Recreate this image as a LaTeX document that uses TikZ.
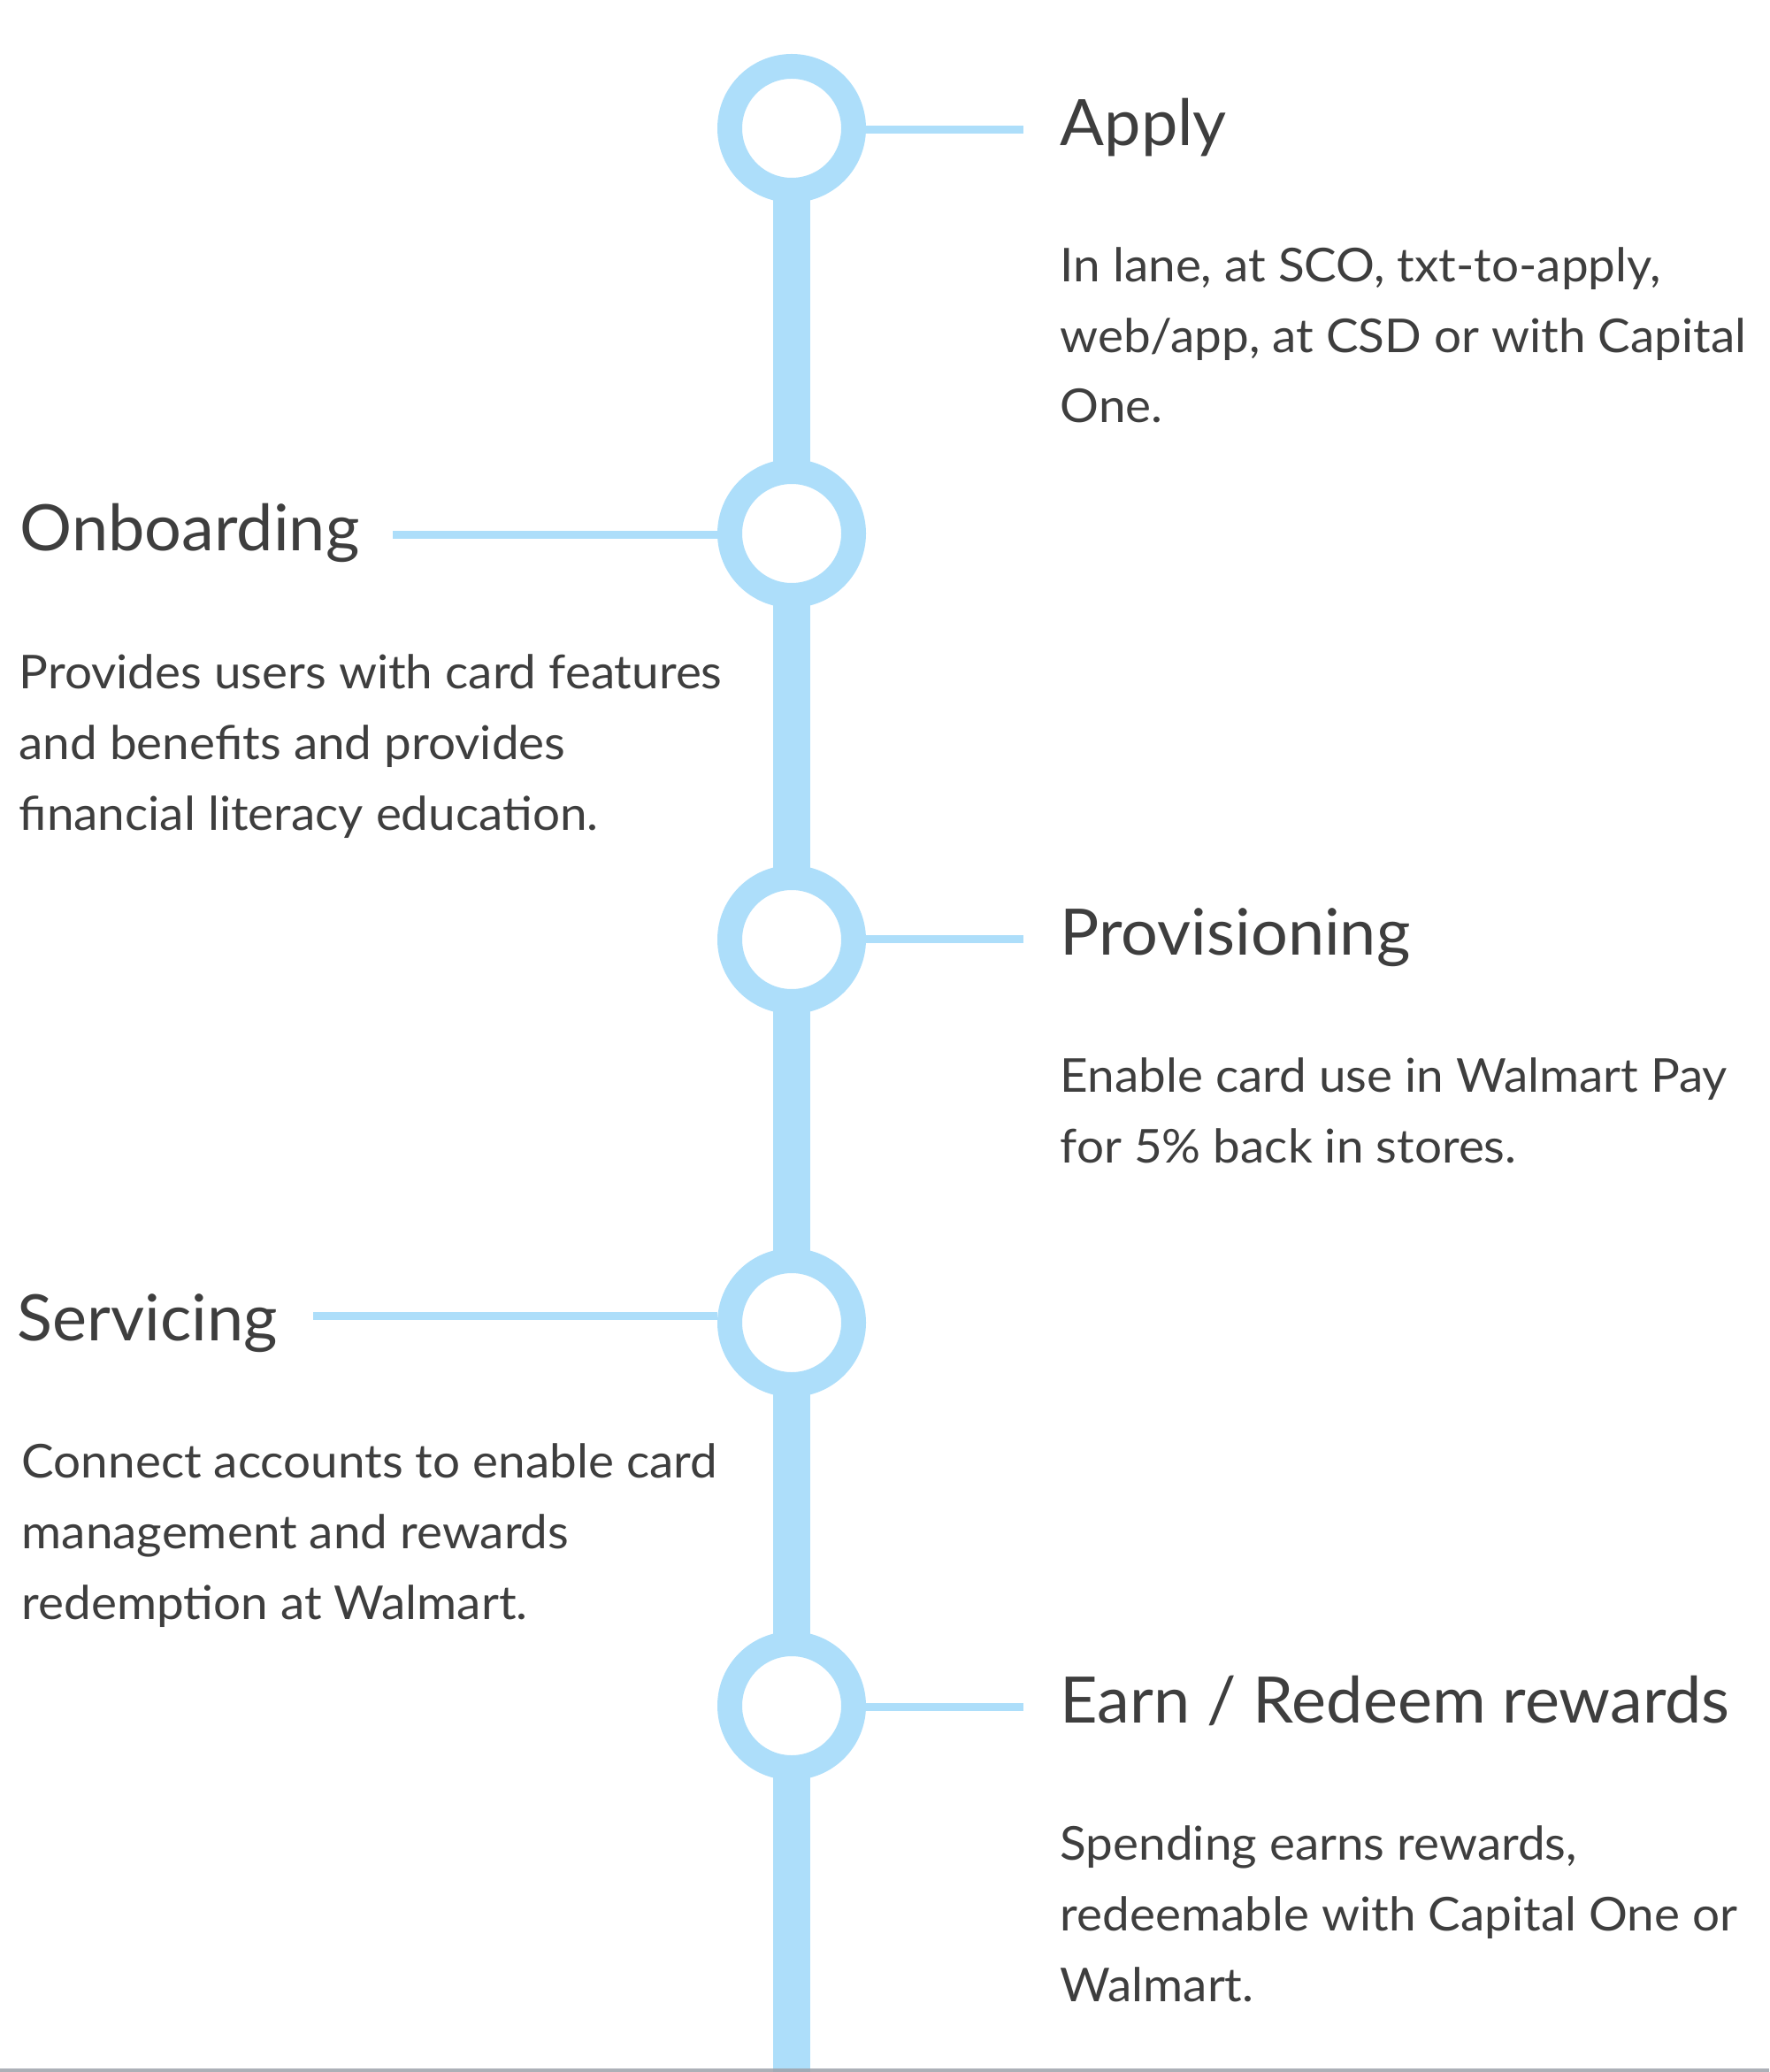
\documentclass[tikz,border=0pt]{standalone}
\usepackage{fontspec}
\setmainfont{Lato}
\newfontfamily\blurbfont{Lato}[FakeStretch=1.04]
\newfontfamily\titlefont{Lato}[FakeStretch=1.02]

\definecolor{railblue}{RGB}{173,222,250}
\definecolor{inkgray}{RGB}{62,62,62}
\definecolor{rulegray}{RGB}{158,162,170}

\tikzset{
    stepdot/.style={circle, draw=railblue, fill=white, line width=2.8mm,
        minimum size=14mm, inner sep=0pt},
    rail/.style={draw=railblue, line width=4.2mm},
    link/.style={draw=railblue, line width=0.9mm},
    steptitle/.style={anchor=base west, inner sep=0pt, text=inkgray,
        font=\titlefont\fontsize{20.6}{24}\selectfont},
    blurb/.style={anchor=base west, inner sep=0pt, align=left, text=inkgray,
        font=\blurbfont\fontsize{15}{22.76}\selectfont},
    footrule/.style={draw=rulegray, line width=0.4mm}
}

\begin{document}
\begin{tikzpicture}
    \useasboundingbox (0,0) rectangle (20,-23.42);
    % rail and stops
    \coordinate (rail-end) at (8.95,-23.42);
    \draw[rail] (8.95,-1.45) -- (rail-end);
    \node[stepdot] (apply-dot) at (8.95,-1.45) {};
    \node[stepdot] (onboarding-dot) at (8.95,-6.03) {};
    \node[stepdot] (provisioning-dot) at (8.95,-10.62) {};
    \node[stepdot] (servicing-dot) at (8.95,-14.95) {};
    \node[stepdot] (earn-dot) at (8.95,-19.28) {};
    % titles
    \node[steptitle] (apply-title) at (11.98,-1.65) {Apply};
    \node[steptitle] (onboarding-title) at (0.22,-6.23) {Onboarding};
    \node[steptitle] (provisioning-title) at (11.98,-10.79) {Provisioning};
    \node[steptitle] (servicing-title) at (0.19,-15.15) {Servicing};
    \node[steptitle] (earn-title) at (11.98,-19.47) {Earn / Redeem rewards};
    % descriptions (anchored on their last line)
    \node[blurb] (apply-text) at (11.98,-4.78)
        {In lane, at SCO, txt-to-apply,\\web/app, at CSD or with Capital\\One.};
    \node[blurb] (onboarding-text) at (0.21,-9.38)
        {Provides users with card features\\and benefits and provides\\financial literacy education.};
    \node[blurb] (provisioning-text) at (11.98,-13.14)
        {Enable card use in Walmart Pay\\for 5\% back in stores.};
    \node[blurb] (servicing-text) at (0.24,-18.30)
        {Connect accounts to enable card\\management and rewards\\redemption at Walmart.};
    \node[blurb] (earn-text) at (11.98,-22.62)
        {Spending earns rewards,\\redeemable with Capital One or\\Walmart.};
    % ticks
    \coordinate (apply-end) at (11.57,-1.465);
    \coordinate (onboarding-end) at (4.44,-6.045);
    \coordinate (provisioning-end) at (11.57,-10.615);
    \coordinate (servicing-end) at (3.54,-14.87);
    \coordinate (earn-end) at (11.57,-19.29);
    \draw[link] (apply-dot.east |- apply-end) -- (apply-end);
    \draw[link] (onboarding-dot.west |- onboarding-end) -- (onboarding-end);
    \draw[link] (provisioning-dot.east |- provisioning-end) -- (provisioning-end);
    \draw[link] (servicing-dot.west |- servicing-end) -- (servicing-end);
    \draw[link] (earn-dot.east |- earn-end) -- (earn-end);
    % bottom edge
    \coordinate (rule-left) at (0,-23.40);
    \coordinate (rule-right) at (20,-23.40);
    \draw[footrule, opacity=0.85] (rule-left) -- (rule-right);
\end{tikzpicture}
\end{document}
